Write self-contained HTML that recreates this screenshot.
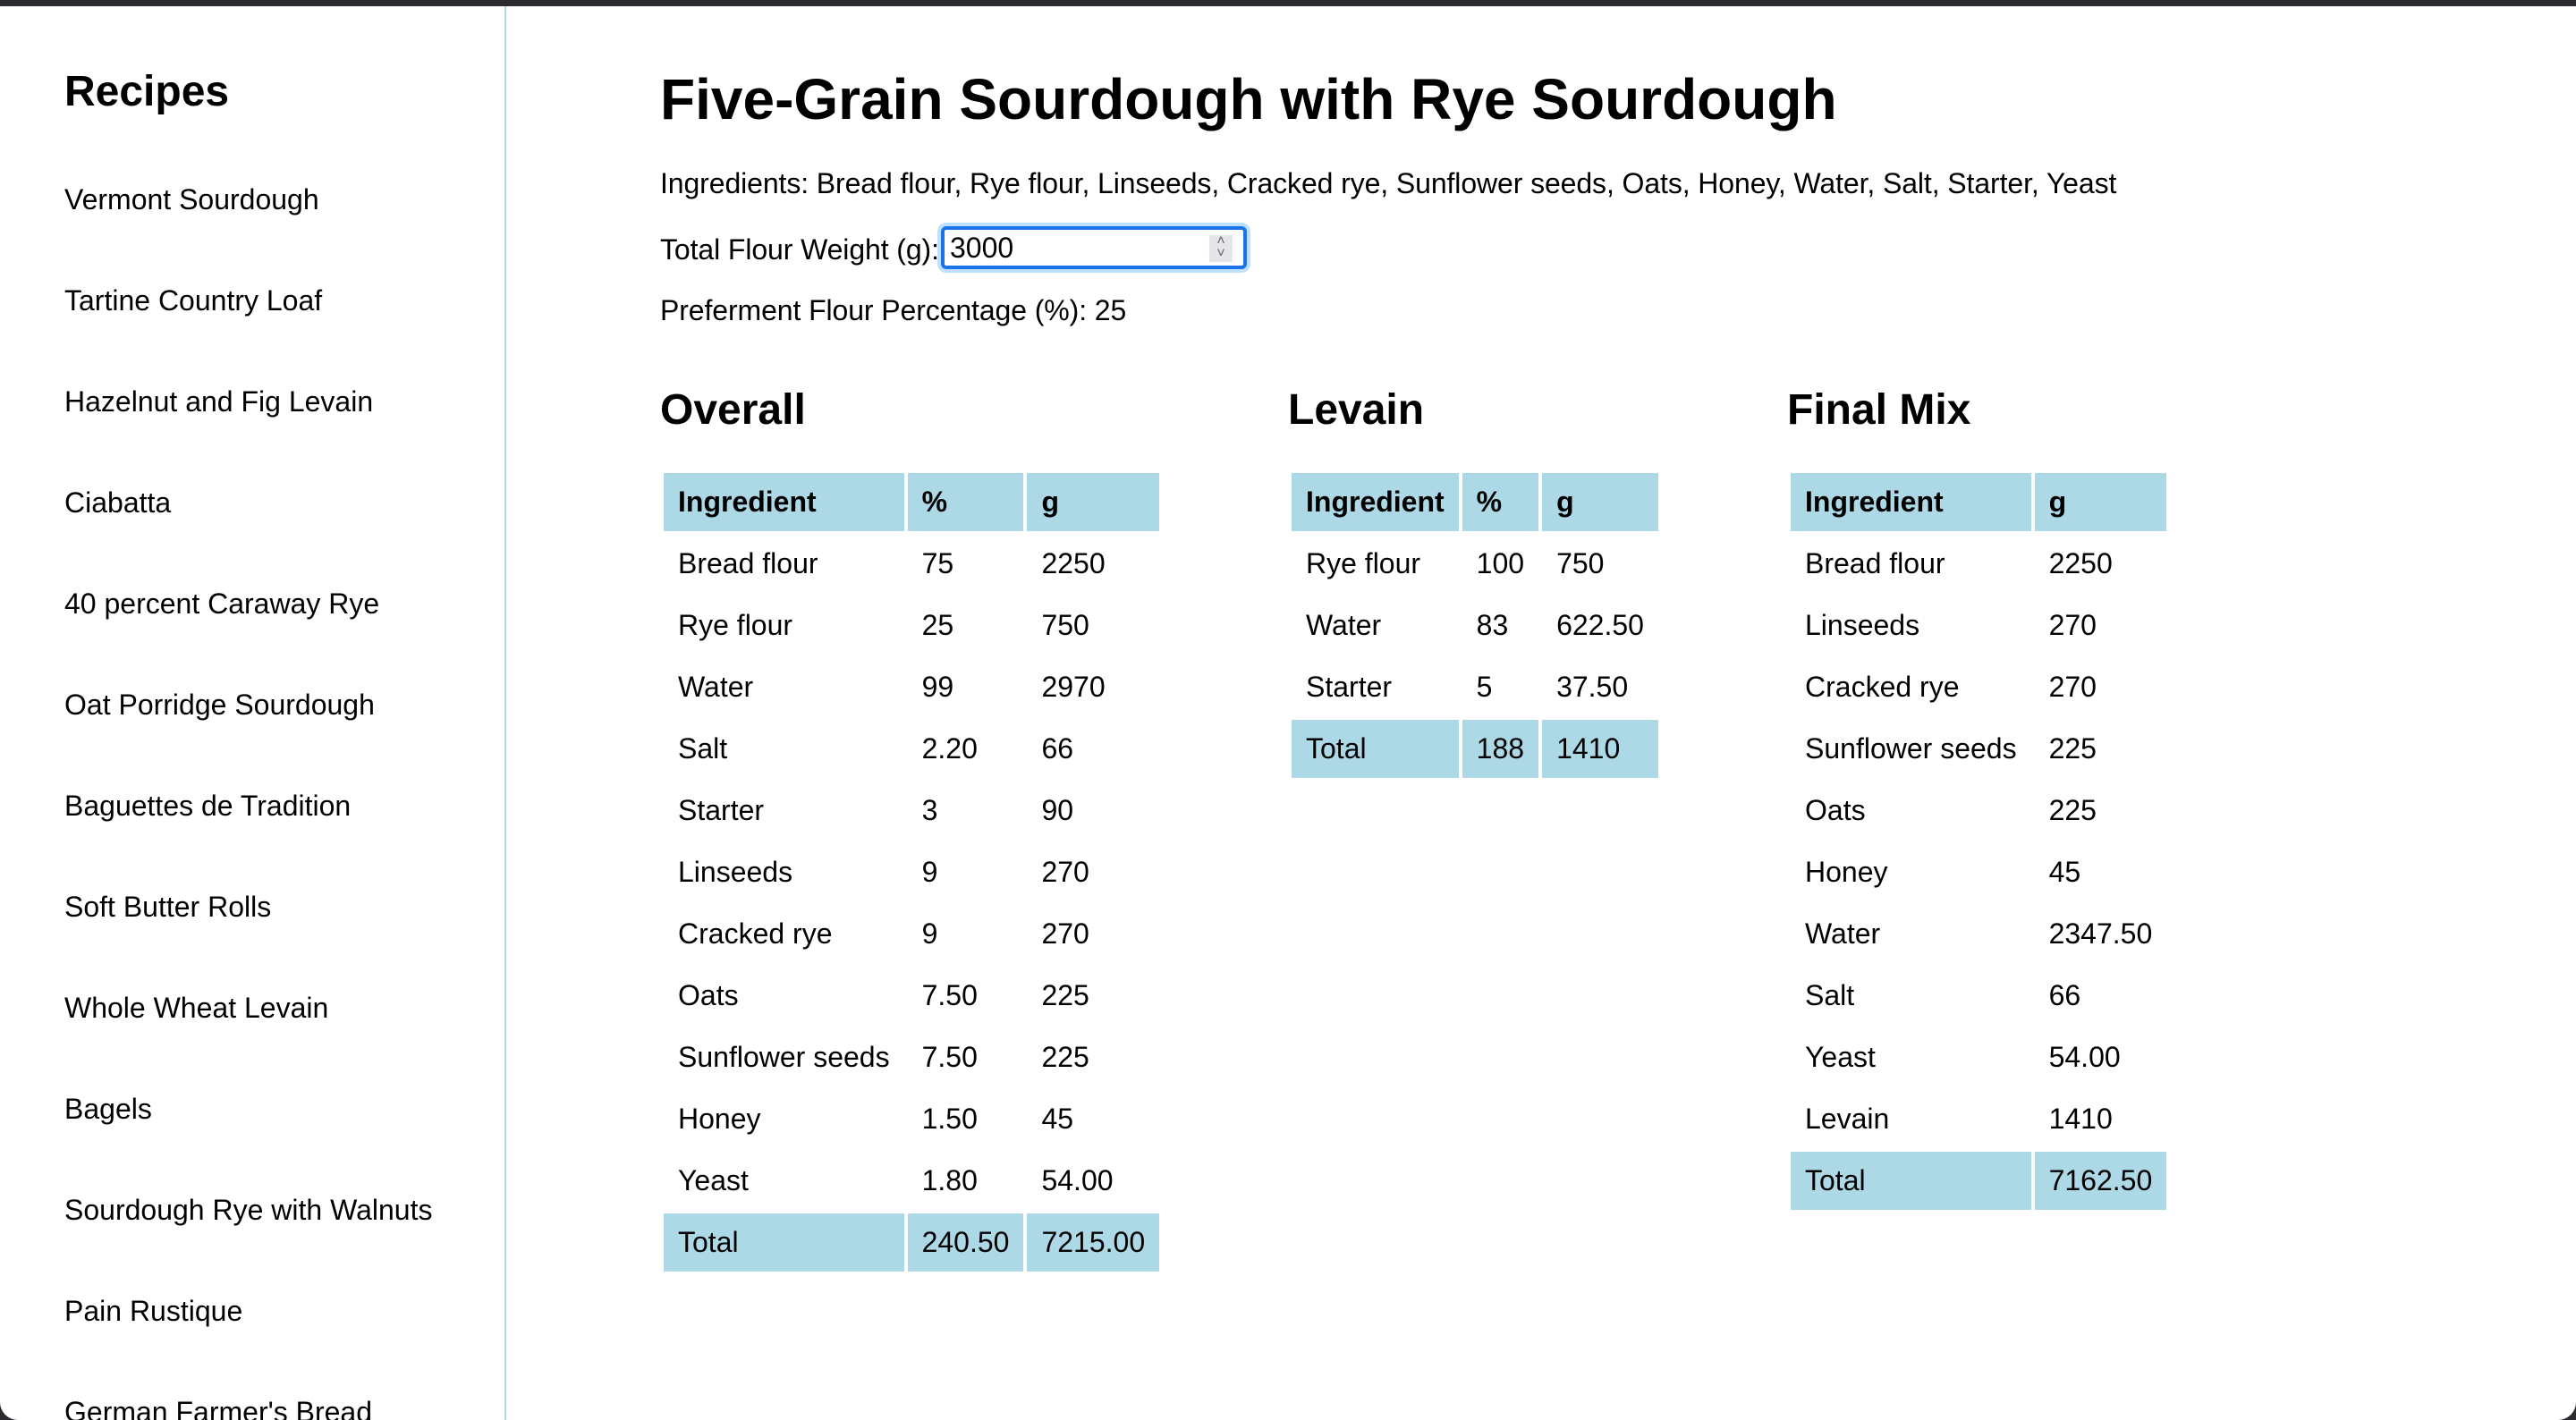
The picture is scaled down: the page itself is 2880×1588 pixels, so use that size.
<!DOCTYPE html>
<html><head><meta charset="utf-8"><style>
html,body{margin:0;padding:0;}
body{width:1440px;height:794px;zoom:2;background:#2b2a31;overflow:hidden;font-family:"Liberation Sans",Arial,sans-serif;color:#000;}
#win{position:absolute;left:0;top:3.5px;width:1440px;height:790.5px;background:#fff;border-radius:0 0 10px 10px;overflow:hidden;}
#side{position:absolute;left:0;top:0;width:282px;height:100%;border-right:1px solid #add8e6;}
#side h2{position:absolute;left:36px;top:34px;margin:0;font-size:24px;line-height:28px;}
#side a{position:absolute;left:36px;font-size:16px;color:#000;text-decoration:none;line-height:18px;}
#main{position:absolute;left:369px;top:0;}
h1{position:absolute;margin:0;left:0;top:33px;font-size:32px;line-height:38px;white-space:nowrap;}
.p{position:absolute;left:0;font-size:16px;white-space:nowrap;line-height:18px;letter-spacing:-0.05px;}
input{position:absolute;left:157px;top:123px;width:171px;height:24px;box-sizing:border-box;border:2px solid #1a73e8;border-radius:3px;box-shadow:0 0 0 2px #bfe0fb;font-family:"Liberation Sans",Arial,sans-serif;font-size:16px;padding:0 3px;outline:none;}
.spin{position:absolute;left:307px;top:128px;width:13px;height:15px;background:#e6e6ea;font-size:8px;color:#666;text-align:center;line-height:7px;}
h2.s{position:absolute;margin:0;font-size:24px;line-height:28px;top:212px;white-space:nowrap;}
table{position:absolute;top:259px;border-spacing:2px;font-size:16px;}
td,th{padding:0 8px;height:32.5px;text-align:left;white-space:nowrap;}
th{background:#add8e6;font-weight:bold;}
tr.tot td{background:#add8e6;}
</style></head><body>
<div id="win">
<div id="side">
<h2>Recipes</h2>
<a style="top:99px">Vermont Sourdough</a>
<a style="top:155.5px">Tartine Country Loaf</a>
<a style="top:212px">Hazelnut and Fig Levain</a>
<a style="top:268.5px">Ciabatta</a>
<a style="top:325px">40 percent Caraway Rye</a>
<a style="top:381.5px">Oat Porridge Sourdough</a>
<a style="top:438px">Baguettes de Tradition</a>
<a style="top:494.5px">Soft Butter Rolls</a>
<a style="top:551px">Whole Wheat Levain</a>
<a style="top:607.5px">Bagels</a>
<a style="top:664px">Sourdough Rye with Walnuts</a>
<a style="top:720.5px">Pain Rustique</a>
<a style="top:777px">German Farmer's Bread</a>
</div>
<div id="main">
<h1>Five-Grain Sourdough with Rye Sourdough</h1>
<div class="p" style="top:90px">Ingredients: Bread flour, Rye flour, Linseeds, Cracked rye, Sunflower seeds, Oats, Honey, Water, Salt, Starter, Yeast</div>
<div class="p" style="top:127px">Total Flour Weight (g):</div>
<input type="text" value="3000">
<div class="spin">&#708;<br>&#709;</div>
<div class="p" style="top:161px">Preferment Flour Percentage (%): 25</div>

<h2 class="s" style="left:0">Overall</h2>
<table style="left:0">
<tr><th style="width:118px">Ingredient</th><th style="width:48px">%</th><th style="width:56px">g</th></tr>
<tr><td>Bread flour</td><td>75</td><td>2250</td></tr>
<tr><td>Rye flour</td><td>25</td><td>750</td></tr>
<tr><td>Water</td><td>99</td><td>2970</td></tr>
<tr><td>Salt</td><td>2.20</td><td>66</td></tr>
<tr><td>Starter</td><td>3</td><td>90</td></tr>
<tr><td>Linseeds</td><td>9</td><td>270</td></tr>
<tr><td>Cracked rye</td><td>9</td><td>270</td></tr>
<tr><td>Oats</td><td>7.50</td><td>225</td></tr>
<tr><td>Sunflower seeds</td><td>7.50</td><td>225</td></tr>
<tr><td>Honey</td><td>1.50</td><td>45</td></tr>
<tr><td>Yeast</td><td>1.80</td><td>54.00</td></tr>
<tr class="tot"><td>Total</td><td>240.50</td><td>7215.00</td></tr>
</table>

<h2 class="s" style="left:351px">Levain</h2>
<table style="left:351px">
<tr><th style="width:77px">Ingredient</th><th style="width:25px">%</th><th style="width:48px">g</th></tr>
<tr><td>Rye flour</td><td>100</td><td>750</td></tr>
<tr><td>Water</td><td>83</td><td>622.50</td></tr>
<tr><td>Starter</td><td>5</td><td>37.50</td></tr>
<tr class="tot"><td>Total</td><td>188</td><td>1410</td></tr>
</table>

<h2 class="s" style="left:630px">Final Mix</h2>
<table style="left:630px">
<tr><th style="width:118px">Ingredient</th><th style="width:57px">g</th></tr>
<tr><td>Bread flour</td><td>2250</td></tr>
<tr><td>Linseeds</td><td>270</td></tr>
<tr><td>Cracked rye</td><td>270</td></tr>
<tr><td>Sunflower seeds</td><td>225</td></tr>
<tr><td>Oats</td><td>225</td></tr>
<tr><td>Honey</td><td>45</td></tr>
<tr><td>Water</td><td>2347.50</td></tr>
<tr><td>Salt</td><td>66</td></tr>
<tr><td>Yeast</td><td>54.00</td></tr>
<tr><td>Levain</td><td>1410</td></tr>
<tr class="tot"><td>Total</td><td>7162.50</td></tr>
</table>
</div>
</div>
</body></html>
